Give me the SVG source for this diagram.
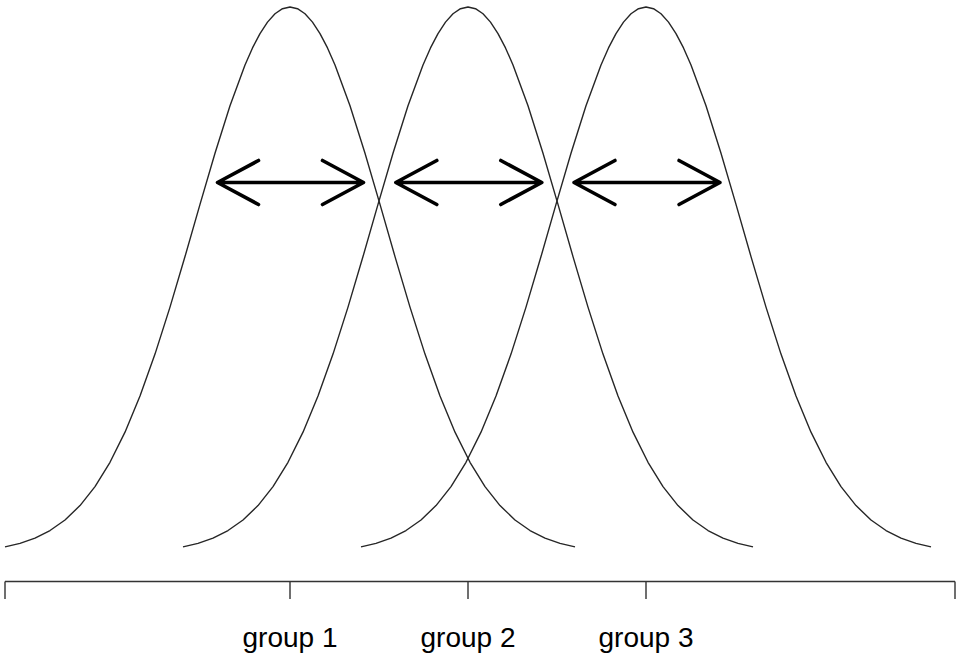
<svg xmlns="http://www.w3.org/2000/svg" width="957" height="656" viewBox="0 0 957 656">
<style>
.curve{fill:none;stroke:#262626;stroke-width:1.4;stroke-linejoin:round}
.arrow{fill:none;stroke:#000;stroke-width:3.6;stroke-linecap:round;stroke-linejoin:round}
.axis{fill:none;stroke:#333;stroke-width:1.4}
.lbl{font-family:"Liberation Sans",Arial,sans-serif;font-size:28px;fill:#000;text-anchor:middle}
</style>
<defs>
<polyline id="bell" points="-285,546.93 -270,543.38 -255,538.12 -240,530.55 -225,519.95 -210,505.56 -195,486.59 -180,462.31 -165,432.17 -150,396.03 -135,354.09 -120,307.13 -105,256.57 -90,204.41 -75,153.19 -60,105.72 -45,64.95 -37.5,47.92 -30,33.56 -22.5,22.1 -15,13.76 -7.5,8.7 0,7 7.5,8.7 15,13.76 22.5,22.1 30,33.56 37.5,47.92 45,64.95 60,105.72 75,153.19 90,204.41 105,256.57 120,307.13 135,354.09 150,396.03 165,432.17 180,462.31 195,486.59 210,505.56 225,519.95 240,530.55 255,538.12 270,543.38 285,546.93"/>
<path id="dblarrow" d="M-73,0 H73 M-32,-22 L-73,0 L-32,22 M32,-22 L73,0 L32,22"/>
</defs>
<g id="curve1"><use href="#bell" class="curve" transform="translate(290,0)"/></g>
<g id="curve2"><use href="#bell" class="curve" transform="translate(468,0)"/></g>
<g id="curve3"><use href="#bell" class="curve" transform="translate(646,0)"/></g>
<g id="arrows">
<use href="#dblarrow" class="arrow" transform="translate(290.5,182.5)"/>
<use href="#dblarrow" class="arrow" transform="translate(468.8,182.5)"/>
<use href="#dblarrow" class="arrow" transform="translate(647,182.5)"/>
</g>
<g id="axis">
<path class="axis" d="M5,581.5 H955 M5,581.5 V599 M290,581.5 V599 M468,581.5 V599 M646,581.5 V599 M955,581.5 V599"/>
<text class="lbl" x="290" y="647">group 1</text>
<text class="lbl" x="468" y="647">group 2</text>
<text class="lbl" x="646" y="647">group 3</text>
</g>
</svg>
